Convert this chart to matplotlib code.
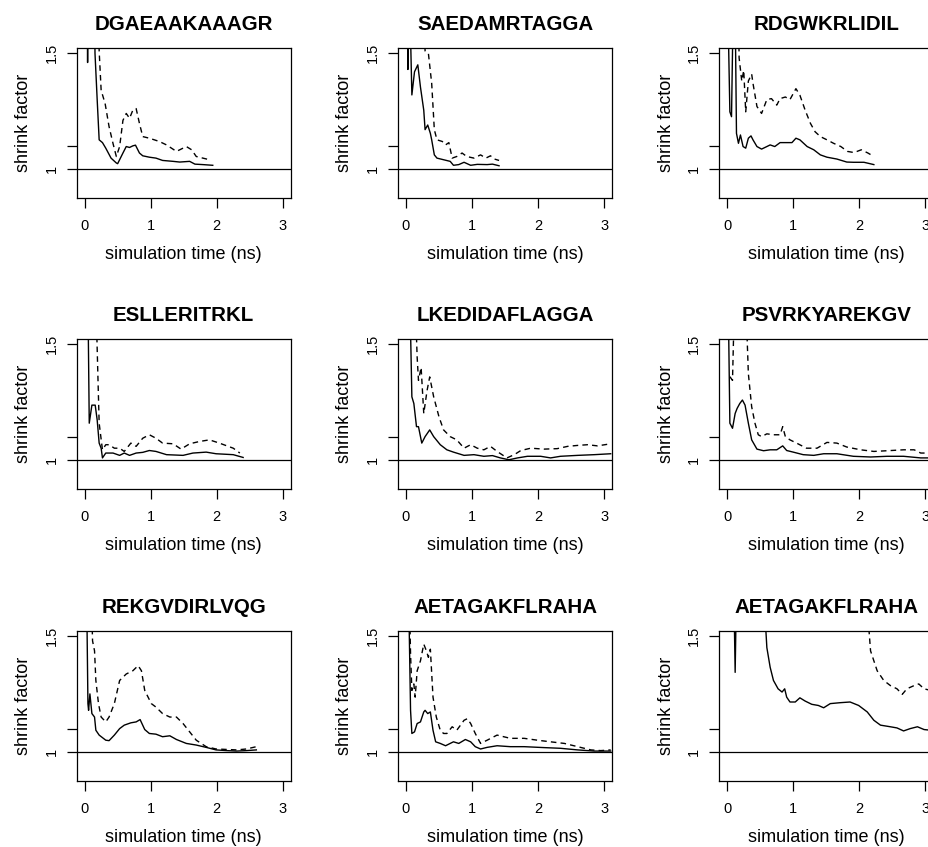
import matplotlib
matplotlib.use("Agg")
import matplotlib.pyplot as plt

plt.rcParams['font.family'] = ['Liberation Sans', 'DejaVu Sans']

# peptide names, one panel each
titles = ["DGAEAAKAAAGR", "SAEDAMRTAGGA", "RDGWKRLIDIL",
          "ESLLERITRKL", "LKEDIDAFLAGGA", "PSVRKYAREKGV",
          "REKGVDIRLVQG", "AETAGAKFLRAHA", "AETAGAKFLRAHA"]

# --- DGAEAAKAAAGR
p1_t = [0.04, 0.045, 0.05, 0.15, 0.157, 0.19, 0.22, 0.27, 0.32, 0.40, 0.48, 0.50, 0.58, 0.63, 0.68, 0.73,
        0.77, 0.83, 0.88, 0.98, 1.08, 1.18, 1.34, 1.44, 1.59, 1.67, 1.79, 1.94]
p1_med = [1.7, 1.46, 1.7, 1.7, 1.5, 1.30, 1.126, 1.114, 1.09, 1.047, 1.026, 1.023, 1.069, 1.097, 1.093, 1.10,
          1.103, 1.069, 1.057, 1.051, 1.047, 1.037, 1.033, 1.03, 1.033, 1.021, 1.019, 1.016]
p1_tu = [0.21, 0.22, 0.25, 0.31, 0.37, 0.43, 0.48, 0.53, 0.58, 0.63, 0.68, 0.73, 0.78, 0.83, 0.88, 0.98,
         1.13, 1.24, 1.39, 1.54, 1.62, 1.69, 1.79, 1.89]
p1_up = [1.7, 1.51, 1.34, 1.283, 1.183, 1.11, 1.054, 1.097, 1.21, 1.24, 1.219, 1.254, 1.261, 1.197, 1.14, 1.133,
         1.119, 1.104, 1.076, 1.097, 1.083, 1.054, 1.047, 1.04]

# --- SAEDAMRTAGGA
p2_t = [0.025, 0.03, 0.035, 0.06, 0.09, 0.13, 0.18, 0.22, 0.27, 0.29, 0.33, 0.37, 0.39, 0.43, 0.47, 0.57,
        0.67, 0.72, 0.80, 0.88, 0.98, 1.08, 1.23, 1.31, 1.41]
p2_med = [1.7, 1.43, 1.7, 1.7, 1.32, 1.42, 1.45, 1.354, 1.254, 1.17, 1.19, 1.154, 1.126, 1.061, 1.047, 1.04,
          1.033, 1.016, 1.019, 1.029, 1.016, 1.02, 1.019, 1.021, 1.014]
p2_tu = [0.27, 0.29, 0.34, 0.39, 0.43, 0.47, 0.55, 0.60, 0.65, 0.70, 0.77, 0.85, 0.92, 1.03, 1.13, 1.21,
         1.28, 1.34, 1.41]
p2_up = [1.7, 1.51, 1.50, 1.37, 1.17, 1.126, 1.119, 1.104, 1.114, 1.047, 1.054, 1.069, 1.054, 1.047, 1.061,
         1.047, 1.057, 1.043, 1.037]

# --- RDGWKRLIDIL
p3_t = [0.01, 0.04, 0.065, 0.09, 0.12, 0.14, 0.17, 0.20, 0.24, 0.28, 0.32, 0.36, 0.39, 0.45, 0.52, 0.60,
        0.65, 0.72, 0.80, 0.90, 0.98, 1.04, 1.10, 1.21, 1.31, 1.41, 1.51, 1.66, 1.81, 1.91, 2.07, 2.22]
p3_med = [1.7, 1.247, 1.226, 1.7, 1.7, 1.154, 1.111, 1.147, 1.097, 1.09, 1.133, 1.143, 1.126, 1.097, 1.086,
          1.097, 1.104, 1.097, 1.114, 1.114, 1.114, 1.133, 1.126, 1.097, 1.083, 1.061, 1.051, 1.043, 1.03,
          1.029, 1.029, 1.019]
p3_tu = [0.17, 0.18, 0.22, 0.25, 0.28, 0.32, 0.37, 0.39, 0.45, 0.52, 0.60, 0.67, 0.75, 0.80, 0.88, 0.95,
         1.04, 1.10, 1.18, 1.26, 1.33, 1.41, 1.51, 1.61, 1.72, 1.82, 1.92, 2.03, 2.13, 2.22]
p3_up = [1.7, 1.48, 1.38, 1.426, 1.247, 1.38, 1.41, 1.37, 1.27, 1.24, 1.30, 1.304, 1.276, 1.304, 1.311, 1.30,
         1.347, 1.319, 1.254, 1.197, 1.161, 1.14, 1.126, 1.111, 1.097, 1.076, 1.071, 1.083, 1.069, 1.054]

# --- ESLLERITRKL
p4_t = [0.05, 0.07, 0.11, 0.16, 0.19, 0.22, 0.25, 0.27, 0.32, 0.43, 0.53, 0.60, 0.68, 0.78, 0.88, 0.98,
        1.08, 1.24, 1.49, 1.64, 1.84, 1.99, 2.25, 2.40]
p4_med = [1.7, 1.159, 1.237, 1.237, 1.173, 1.073, 1.051, 1.009, 1.03, 1.03, 1.02, 1.03, 1.02, 1.03, 1.033,
          1.041, 1.037, 1.023, 1.02, 1.03, 1.034, 1.027, 1.023, 1.011]
p4_tu = [0.17, 0.20, 0.22, 0.27, 0.32, 0.37, 0.45, 0.53, 0.60, 0.70, 0.78, 0.88, 0.98, 1.08, 1.18, 1.34,
         1.46, 1.59, 1.74, 1.89, 2.04, 2.25, 2.35]
p4_up = [1.7, 1.373, 1.159, 1.044, 1.066, 1.066, 1.051, 1.051, 1.037, 1.073, 1.059, 1.094, 1.109, 1.094,
         1.073, 1.07, 1.047, 1.07, 1.08, 1.087, 1.073, 1.051, 1.03]

# --- LKEDIDAFLAGGA
p5_t = [0.06, 0.09, 0.12, 0.16, 0.19, 0.24, 0.29, 0.36, 0.42, 0.52, 0.62, 0.72, 0.88, 1.03, 1.18, 1.31,
        1.43, 1.56, 1.69, 1.84, 2.04, 2.19, 2.34, 2.60, 2.85, 3.10]
p5_med = [1.7, 1.273, 1.244, 1.144, 1.144, 1.073, 1.101, 1.13, 1.101, 1.066, 1.044, 1.034, 1.02, 1.023,
          1.016, 1.019, 1.009, 1.001, 1.009, 1.016, 1.016, 1.009, 1.016, 1.02, 1.023, 1.027]
p5_tu = [0.14, 0.17, 0.19, 0.23, 0.27, 0.32, 0.36, 0.42, 0.50, 0.57, 0.67, 0.77, 0.88, 0.98, 1.08, 1.18,
         1.28, 1.38, 1.53, 1.64, 1.74, 1.89, 2.09, 2.29, 2.45, 2.60, 2.75, 2.90, 3.10]
p5_up = [1.7, 1.444, 1.344, 1.40, 1.201, 1.30, 1.359, 1.273, 1.187, 1.13, 1.101, 1.087, 1.051, 1.066, 1.051,
         1.044, 1.059, 1.037, 1.009, 1.023, 1.041, 1.051, 1.047, 1.049, 1.059, 1.063, 1.066, 1.061, 1.07]

# --- PSVRKYAREKGV
p6_t = [0.015, 0.04, 0.08, 0.12, 0.15, 0.19, 0.23, 0.27, 0.32, 0.37, 0.45, 0.55, 0.65, 0.75, 0.84, 0.90,
        1.00, 1.15, 1.31, 1.46, 1.66, 1.91, 2.17, 2.42, 2.67, 2.93, 3.08]
p6_med = [1.7, 1.159, 1.137, 1.201, 1.223, 1.244, 1.259, 1.237, 1.159, 1.087, 1.047, 1.04, 1.044, 1.044,
          1.061, 1.041, 1.034, 1.023, 1.02, 1.027, 1.027, 1.016, 1.013, 1.016, 1.016, 1.009, 1.009]
p6_tu = [0.04, 0.08, 0.11, 0.28, 0.32, 0.37, 0.42, 0.47, 0.52, 0.60, 0.70, 0.80, 0.84, 0.88, 0.95, 1.05,
         1.20, 1.36, 1.51, 1.66, 1.81, 2.02, 2.22, 2.42, 2.67, 2.83, 2.93, 3.08]
p6_up = [1.36, 1.344, 1.7, 1.7, 1.373, 1.23, 1.159, 1.109, 1.101, 1.113, 1.109, 1.109, 1.144, 1.101, 1.087,
         1.073, 1.051, 1.051, 1.076, 1.073, 1.056, 1.044, 1.037, 1.04, 1.044, 1.044, 1.03, 1.03]

# --- REKGVDIRLVQG
p7_t = [0.03, 0.05, 0.06, 0.08, 0.11, 0.15, 0.17, 0.22, 0.32, 0.37, 0.45, 0.53, 0.60, 0.70, 0.78, 0.84,
        0.91, 0.98, 1.08, 1.18, 1.29, 1.39, 1.54, 1.69, 1.84, 1.99, 2.15, 2.30, 2.45, 2.60]
p7_med = [1.7, 1.209, 1.18, 1.251, 1.166, 1.151, 1.094, 1.073, 1.051, 1.049, 1.073, 1.101, 1.116, 1.126,
          1.13, 1.14, 1.097, 1.08, 1.077, 1.066, 1.07, 1.054, 1.037, 1.03, 1.02, 1.009, 1.006, 1.004, 1.006,
          1.009]
p7_tu = [0.10, 0.12, 0.15, 0.17, 0.21, 0.25, 0.32, 0.37, 0.45, 0.53, 0.63, 0.73, 0.81, 0.86, 0.91, 1.01,
         1.08, 1.18, 1.29, 1.39, 1.49, 1.59, 1.69, 1.84, 1.99, 2.15, 2.30, 2.45, 2.60]
p7_up = [1.7, 1.48, 1.437, 1.309, 1.209, 1.151, 1.13, 1.151, 1.209, 1.309, 1.337, 1.351, 1.373, 1.351,
         1.266, 1.209, 1.194, 1.166, 1.151, 1.151, 1.123, 1.087, 1.051, 1.023, 1.013, 1.011, 1.009, 1.013,
         1.023]

# --- AETAGAKFLRAHA (first run)
p8_t = [0.04, 0.07, 0.09, 0.13, 0.17, 0.22, 0.27, 0.29, 0.33, 0.37, 0.41, 0.45, 0.52, 0.60, 0.67, 0.72,
        0.80, 0.90, 0.98, 1.05, 1.13, 1.23, 1.38, 1.58, 1.79, 2.09, 2.34, 2.60, 2.85, 3.10]
p8_med = [1.7, 1.18, 1.08, 1.087, 1.123, 1.13, 1.173, 1.18, 1.166, 1.173, 1.094, 1.044, 1.037, 1.027,
          1.037, 1.044, 1.037, 1.054, 1.044, 1.023, 1.013, 1.02, 1.027, 1.023, 1.023, 1.019, 1.016, 1.009,
          1.004, 1.004]
p8_tu = [0.05, 0.07, 0.09, 0.12, 0.14, 0.17, 0.22, 0.27, 0.31, 0.34, 0.37, 0.41, 0.46, 0.52, 0.57, 0.62,
         0.70, 0.77, 0.88, 0.93, 0.98, 1.05, 1.13, 1.23, 1.38, 1.58, 1.79, 1.99, 2.19, 2.40, 2.60, 2.80,
         2.95, 3.10]
p8_up = [1.7, 1.423, 1.266, 1.294, 1.237, 1.351, 1.394, 1.466, 1.437, 1.409, 1.444, 1.237, 1.151, 1.094,
         1.08, 1.08, 1.109, 1.094, 1.137, 1.144, 1.123, 1.08, 1.037, 1.051, 1.073, 1.059, 1.059, 1.051, 1.044,
         1.037, 1.023, 1.009, 1.006, 1.009]

# --- AETAGAKFLRAHA (second run)
p9_t = [0.10, 0.12, 0.14, 0.55, 0.60, 0.65, 0.70, 0.77, 0.83, 0.87, 0.90, 0.95, 1.03, 1.10, 1.18, 1.28,
        1.38, 1.46, 1.56, 1.71, 1.86, 1.99, 2.12, 2.22, 2.32, 2.47, 2.57, 2.67, 2.77, 2.88, 2.98, 3.08]
p9_med = [1.7, 1.344, 1.7, 1.7, 1.451, 1.366, 1.309, 1.273, 1.259, 1.273, 1.237, 1.216, 1.216, 1.234, 1.22,
          1.206, 1.201, 1.191, 1.209, 1.213, 1.216, 1.201, 1.173, 1.137, 1.116, 1.109, 1.104, 1.091, 1.101,
          1.109, 1.097, 1.094]
p9_tu = [2.10, 2.17, 2.27, 2.37, 2.47, 2.57, 2.65, 2.72, 2.83, 2.90, 2.98, 3.08]
p9_up = [1.7, 1.437, 1.351, 1.309, 1.287, 1.273, 1.249, 1.273, 1.287, 1.294, 1.273, 1.266]

panels = [(p1_t, p1_med, p1_tu, p1_up), (p2_t, p2_med, p2_tu, p2_up), (p3_t, p3_med, p3_tu, p3_up),
          (p4_t, p4_med, p4_tu, p4_up), (p5_t, p5_med, p5_tu, p5_up), (p6_t, p6_med, p6_tu, p6_up),
          (p7_t, p7_med, p7_tu, p7_up), (p8_t, p8_med, p8_tu, p8_up), (p9_t, p9_med, p9_tu, p9_up)]

W, H = 929, 847
fig = plt.figure(figsize=(W / 100, H / 100), dpi=100)

col_left = [76.7, 398, 719.3]
row_top = [47.7, 338.7, 630.7]
box_w, box_h = 214, 150

for k, (t, med, tu, up) in enumerate(panels):
    r, c = divmod(k, 3)
    ax = fig.add_axes([col_left[c] / W, 1 - (row_top[r] + box_h) / H, box_w / W, box_h / H])
    ax.plot(t, med, color='black', lw=1.0)
    ax.plot(tu, up, color='black', lw=1.0, linestyle=(0, (4, 3)))
    ax.axhline(1, color='black', lw=0.9)

    ax.set_xlim(-0.12, 3.12)
    ax.set_ylim(0.876, 1.524)
    ax.set_xticks([0, 1, 2, 3])
    ax.set_yticks([1, 1.1, 1.5])
    ax.set_yticklabels(["1", "", "1.5"], rotation=90, va='center')
    ax.tick_params(direction='out', length=7.5, width=0.9, labelsize=10.5)
    ax.tick_params(axis='x', pad=7.5)
    ax.tick_params(axis='y', pad=5.5)
    for s in ax.spines.values():
        s.set_linewidth(0.9)

    ax.set_title(titles[k], fontsize=14.8, fontweight='bold', pad=13)
    ax.set_xlabel("simulation time (ns)", fontsize=13, labelpad=10)
    ax.set_ylabel("shrink factor", fontsize=13, labelpad=9)

fig.savefig("out.png", dpi=100)
